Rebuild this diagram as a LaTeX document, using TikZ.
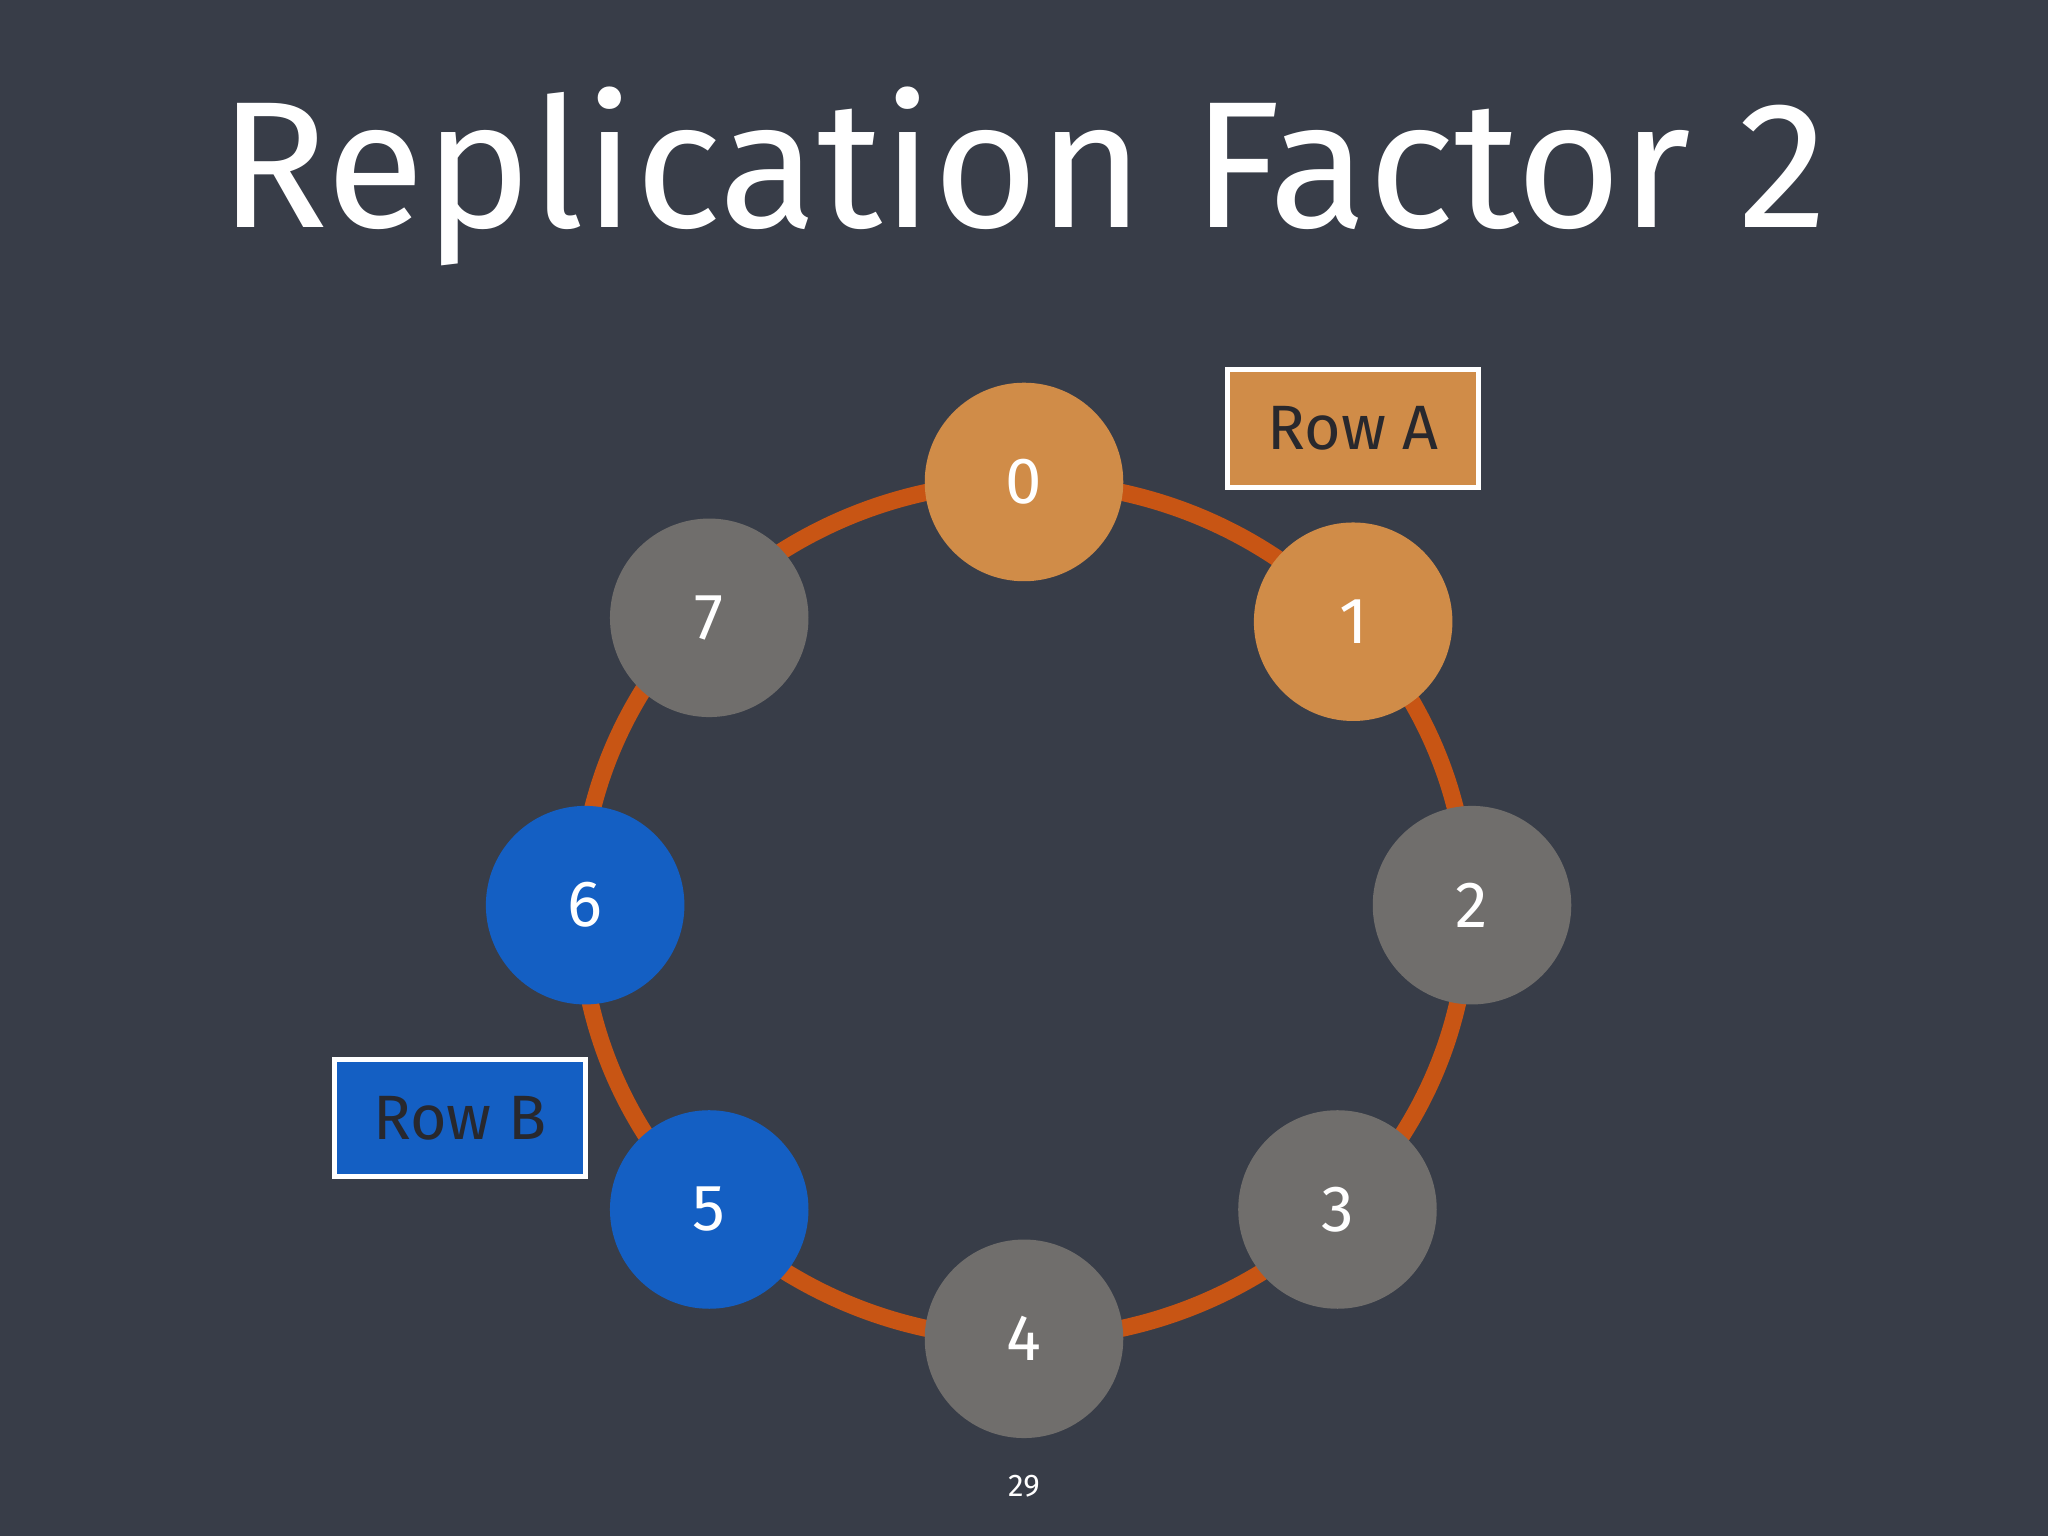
\documentclass[tikz,border=0pt]{standalone}
\usepackage{fontspec}
\setmainfont{Fira Sans}
\definecolor{bg}{RGB}{56,61,72}
\definecolor{ring}{RGB}{200,85,20}
\definecolor{og}{RGB}{208,140,72}
\definecolor{gy}{RGB}{112,110,108}
\definecolor{bl}{RGB}{20,95,195}
\definecolor{tx}{RGB}{40,40,45}
\begin{document}
\begin{tikzpicture}[x=1pt,y=-1pt,
  tok/.style={circle,minimum size=152pt,inner sep=0pt,text=white,font=\fontsize{50}{50}\selectfont},
  lab/.style={draw=white,line width=4pt,minimum width=192pt,minimum height=90pt,text=tx,font=\fontsize{48}{48}\selectfont}]
\fill[bg] (0,0) rectangle (1568,1176);
\useasboundingbox (0,0) rectangle (1568,1176);
\node[text=white,font=\fontsize{138}{138}\selectfont] (title) at (784,135) {Replication Factor 2};
\draw[ring,line width=13pt] (784,697) ellipse [x radius=340,y radius=328];
\node[tok,fill=og] (n0) at (784,369) {0};
\node[tok,fill=og] (n1) at (1036,476) {1};
\node[tok,fill=gy] (n2) at (1127,693) {2};
\node[tok,fill=gy] (n3) at (1024,926) {3};
\node[tok,fill=gy] (n4) at (784,1025) {4};
\node[tok,fill=bl] (n5) at (543,926) {5};
\node[tok,fill=bl] (n6) at (448,693) {6};
\node[tok,fill=gy] (n7) at (543,473) {7};
\node[lab,fill=og] (ra) at (1036,328) {Row A};
\node[lab,fill=bl] (rb) at (352,856) {Row B};
\node[text=white,font=\fontsize{24}{24}\selectfont] (pg) at (784,1138) {29};
\end{tikzpicture}
\end{document}
